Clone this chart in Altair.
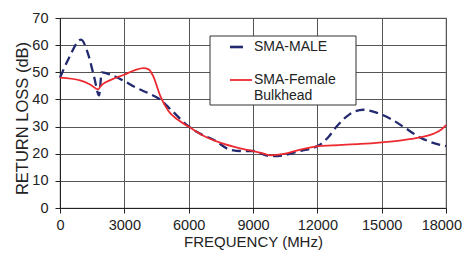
import altair as alt
import pandas as pd

male_f = [0, 400, 980, 1300, 1600, 1820, 1950, 2400, 2940, 3500, 4200, 4665, 5200, 5925, 6500, 7200,
          7930, 8500, 9000, 9800, 10500, 11030, 12050, 12500, 12900, 13500, 14150, 14800, 15500, 16000,
          16790, 17400, 18000]
male_v = [48, 55, 62, 57, 48, 41.5, 50, 49, 47, 44.5, 42, 40, 36, 30.5, 27.5, 25,
          21.5, 21, 21, 19.1, 19.5, 20.7, 23, 26, 30, 34.5, 36.2, 35, 32.5, 30,
          26, 24, 22.8]
fem_f = [0, 933, 1400, 1787, 1900, 2400, 2955, 3500, 3890, 4150, 4350, 4665, 5055, 5500, 5990, 6600,
         7500, 8400, 8865, 9500, 9800, 10500, 11200, 12050, 13000, 14000, 15000, 16000, 16790, 17400,
         17800, 18000]
fem_v = [48, 47, 45.5, 43.7, 45, 47.3, 49, 50.8, 51.5, 51, 48.5, 41.5, 35.7, 32.5, 30, 27,
         24, 22, 21.2, 20, 19.4, 20, 21.5, 22.8, 23.2, 23.6, 24.2, 25, 26, 27.3,
         29, 30.5]

x_ticks = [0, 3000, 6000, 9000, 12000, 15000, 18000]
y_ticks = [0, 10, 20, 30, 40, 50, 60, 70]

NAVY = "#232a6f"
RED = "#ec2a30"
FONT = "Liberation Sans"

male = pd.DataFrame({"f": male_f, "v": male_v})
fem = pd.DataFrame({"f": fem_f, "v": fem_v})

last_x = "datum.value == 18000"

xs = alt.X("f:Q", scale=alt.Scale(domain=[0, 18000], nice=False),
           axis=alt.Axis(values=x_ticks, title="FREQUENCY (MHz)", format="d",
                         labelFontSize=14.5, titleFontSize=15, labelPadding=5.5, tickSize=5,
                         labelFlush=False, labelOverlap=False,
                         labelAlign=alt.ConditionalAxisLabelAlign(
                             condition={"test": last_x, "value": "right"}, value="center"),
                         labelOffset=alt.ConditionalAxisNumber(
                             condition={"test": last_x, "value": 15.5}, value=0),
                         titleFontWeight="normal", titleY=38.8, titleBaseline="alphabetic"))
ys = alt.Y("v:Q", scale=alt.Scale(domain=[0, 70], nice=False),
           axis=alt.Axis(values=y_ticks, title="RETURN LOSS (dB)", labelFontSize=14.5,
                         titleFontSize=16.5, tickSize=5, labelPadding=7, titleFontWeight="normal",
                         labelFlush=False,
                         titleX=-38, titleY=100, titleBaseline="middle", titleAngle=-90,
                         titleAlign="center"))

male_line = alt.Chart(male).mark_line(color=NAVY, strokeWidth=2.3, strokeDash=[9, 5],
                                      interpolate="monotone").encode(x=xs, y=ys)
fem_line = alt.Chart(fem).mark_line(color=RED, strokeWidth=1.8,
                                    interpolate="monotone").encode(x=xs, y=ys)

# legend box (pixel coordinates inside plot area)
box = alt.Chart(pd.DataFrame({"a": [0]})).mark_rect(fill="white", stroke="#333", strokeWidth=1).encode(
    x=alt.value(150), x2=alt.value(296), y=alt.value(18), y2=alt.value(87))
leg_male = alt.Chart(pd.DataFrame({"a": [0]})).mark_rule(color=NAVY, strokeWidth=2.6).encode(
    x=alt.value(170), x2=alt.value(183), y=alt.value(29))
leg_fem = alt.Chart(pd.DataFrame({"a": [0]})).mark_rule(color=RED, strokeWidth=1.8).encode(
    x=alt.value(170), x2=alt.value(192), y=alt.value(62))
legend_text = alt.Chart(pd.DataFrame({"t": ["SMA-MALE", "SMA-Female", "Bulkhead"],
                                      "yy": [29, 62, 78]})).mark_text(
    align="left", baseline="middle", fontSize=14, font=FONT, color="#222").encode(
    x=alt.value(194), y=alt.Y("yy:Q", scale=None), text="t:N")

chart = alt.layer(male_line, fem_line, box, leg_male, leg_fem, legend_text).properties(
    width=386, height=190, autosize="none",
    padding={"left": 52, "top": 10, "right": 16, "bottom": 42},
).configure_axis(
    grid=True, gridColor="#555", gridWidth=1, domainColor="#222", tickColor="#222",
    labelColor="#222", titleColor="#222", labelFont=FONT, titleFont=FONT,
).configure_view(stroke="#777", strokeWidth=1.2)

chart.save("out.html", embed_options={"renderer": "svg", "actions": False})
